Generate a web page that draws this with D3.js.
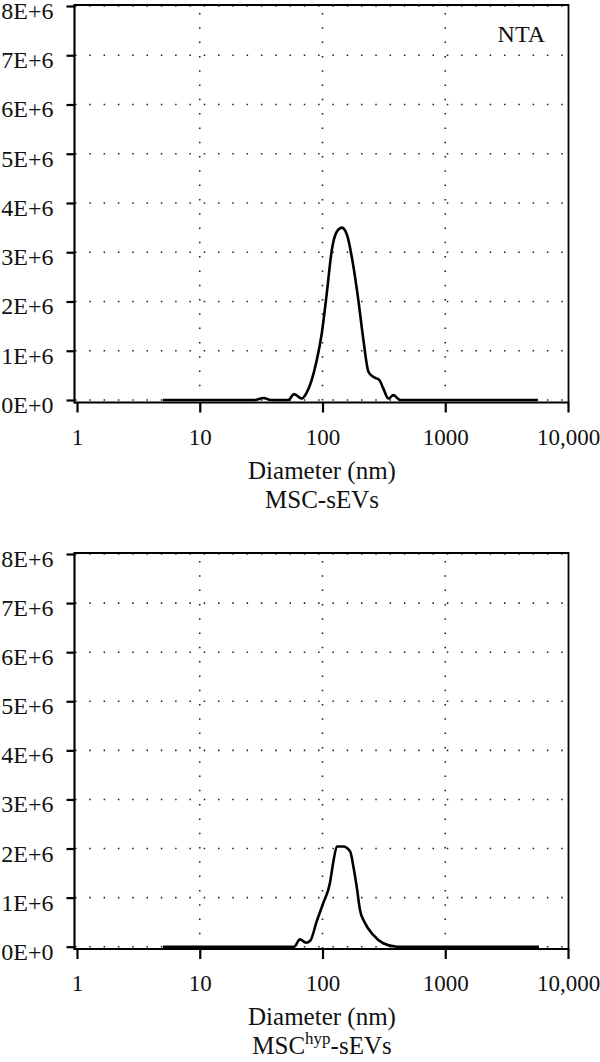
<!DOCTYPE html>
<html>
<head>
<meta charset="utf-8">
<script src="https://cdn.jsdelivr.net/npm/d3@7"></script>
<style>
  body { margin: 0; background: #fff; }
  svg { display: block; }
  text { font-family: 'Liberation Serif', 'Times New Roman', serif; fill: #111; }
</style>
</head>
<body>
<div id="chart"></div>
<script>
// size distribution (diameter in nm, concentration in particles/ml)
const mscDiameter = [5, 28, 33, 38, 52.7, 58.7, 67.6, 74, 89.8, 98.6, 108.4, 119.2, 131, 144, 158.4, 178.6, 195.8, 215.4, 236.7, 258.8, 290, 312, 345, 378, 430, 5700];
const mscConc = [0, 0, 0.04e6, 0, 0, 0.12e6, 0.03e6, 0.14e6, 0.81e6, 1.35e6, 2.17e6, 3.05e6, 3.42e6, 3.5e6, 3.35e6, 2.71e6, 2.03e6, 1.22e6, 0.575e6, 0.47e6, 0.41e6, 0.24e6, 0.03e6, 0.1e6, 0, 0];

const hypDiameter = [5, 58.7, 65.5, 73.5, 79.4, 89.8, 101.8, 115, 122, 131, 147, 168, 178.6, 190, 202, 222, 259, 312, 404, 5800];
const hypConc = [0, 0, 0.15e6, 0.08e6, 0.12e6, 0.52e6, 0.9e6, 1.3e6, 1.7e6, 2.04e6, 2.04e6, 1.94e6, 1.63e6, 1.22e6, 0.75e6, 0.48e6, 0.24e6, 0.07e6, 0, 0];

const yTicks = [0, 1e6, 2e6, 3e6, 4e6, 5e6, 6e6, 7e6, 8e6];
const yTickLabels = ['0E+0', '1E+6', '2E+6', '3E+6', '4E+6', '5E+6', '6E+6', '7E+6', '8E+6'];
const xTicks = [1, 10, 100, 1000, 10000];
const xTickLabels = ['1', '10', '100', '1000', '10,000'];

const width = 600, height = 1062;
const svg = d3.select('#chart').append('svg')
  .attr('width', width)
  .attr('height', height);

const x = d3.scaleLog().domain([1, 10000]).range([77, 568]);

function drawPanel(diam, conc, zeroY, topY, frameTop, frameBottom, caption) {
  const y = d3.scaleLinear().domain([0, 8e6]).range([zeroY, topY]);
  const g = svg.append('g');

  // dotted grid
  g.selectAll('.hgrid')
    .data(yTicks)
    .enter().append('line')
    .attr('x1', 75).attr('x2', 568)
    .attr('y1', d => y(d)).attr('y2', d => y(d))
    .attr('stroke', '#222').attr('stroke-width', 1.6)
    .attr('stroke-dasharray', '1.5 12.8');
  g.selectAll('.vgrid')
    .data([10, 100, 1000])
    .enter().append('line')
    .attr('x1', d => x(d)).attr('x2', d => x(d))
    .attr('y1', frameTop + 8).attr('y2', frameBottom)
    .attr('stroke', '#222').attr('stroke-width', 1.6)
    .attr('stroke-dasharray', '1.5 12.8');

  // frame
  g.append('path')
    .attr('d', `M74.5,${frameTop}H568.5V${frameBottom}H74.5`)
    .attr('fill', 'none').attr('stroke', '#000').attr('stroke-width', 1.8);
  g.append('line')
    .attr('x1', 74.5).attr('x2', 74.5)
    .attr('y1', frameTop - 0.9).attr('y2', frameBottom + 1)
    .attr('stroke', '#000').attr('stroke-width', 2.2);

  // y axis
  const yAxis = g.append('g')
    .attr('transform', 'translate(74.5,0)')
    .call(d3.axisLeft(y).tickValues(yTicks).tickSize(8).tickPadding(13)
      .tickFormat((d, i) => yTickLabels[i]));
  yAxis.select('.domain').remove();
  yAxis.selectAll('line').attr('stroke', '#000').attr('stroke-width', 2.2);
  yAxis.selectAll('text')
    .attr('font-size', '24px')
    .attr('font-family', "'Liberation Serif', serif")
    .attr('fill', '#111')
    .attr('dy', '0.52em');

  // x axis
  const xAxis = g.append('g')
    .attr('transform', `translate(0,${frameBottom})`)
    .call(d3.axisBottom(x).tickValues(xTicks).tickSize(10).tickPadding(16)
      .tickFormat((d, i) => xTickLabels[i]));
  xAxis.select('.domain').remove();
  xAxis.selectAll('line').attr('stroke', '#000').attr('stroke-width', 2.2);
  xAxis.selectAll('text')
    .attr('font-size', '23px')
    .attr('font-family', "'Liberation Serif', serif")
    .attr('fill', '#111');

  // distribution curve
  const line = d3.line()
    .x((d, i) => x(diam[i]))
    .y(d => y(d))
    .curve(d3.curveMonotoneX);
  g.append('path')
    .datum(conc)
    .attr('d', line)
    .attr('fill', 'none')
    .attr('stroke', '#000')
    .attr('stroke-width', 2.6)
    .attr('stroke-linejoin', 'round');

  g.append('text')
    .attr('x', 322)
    .attr('y', frameBottom + 76)
    .attr('text-anchor', 'middle')
    .attr('font-size', '25px')
    .text('Diameter (nm)');

  const cap = g.append('text')
    .attr('x', 322)
    .attr('y', frameBottom + 105)
    .attr('text-anchor', 'middle')
    .attr('font-size', '25px');
  caption(cap);
  return g;
}

const topPanel = drawPanel(mscDiameter, mscConc, 400, 6, 5, 402.5, t => t.text('MSC-sEVs'));
topPanel.append('text')
  .attr('x', 545)
  .attr('y', 42)
  .attr('text-anchor', 'end')
  .attr('font-size', '24px')
  .text('NTA');

drawPanel(hypDiameter, hypConc, 946.7, 554, 553, 949, t => {
  t.append('tspan').text('MSC');
  t.append('tspan').attr('font-size', '17px').attr('dy', -10).text('hyp');
  t.append('tspan').attr('dy', 10).text('-sEVs');
});
</script>
</body>
</html>
